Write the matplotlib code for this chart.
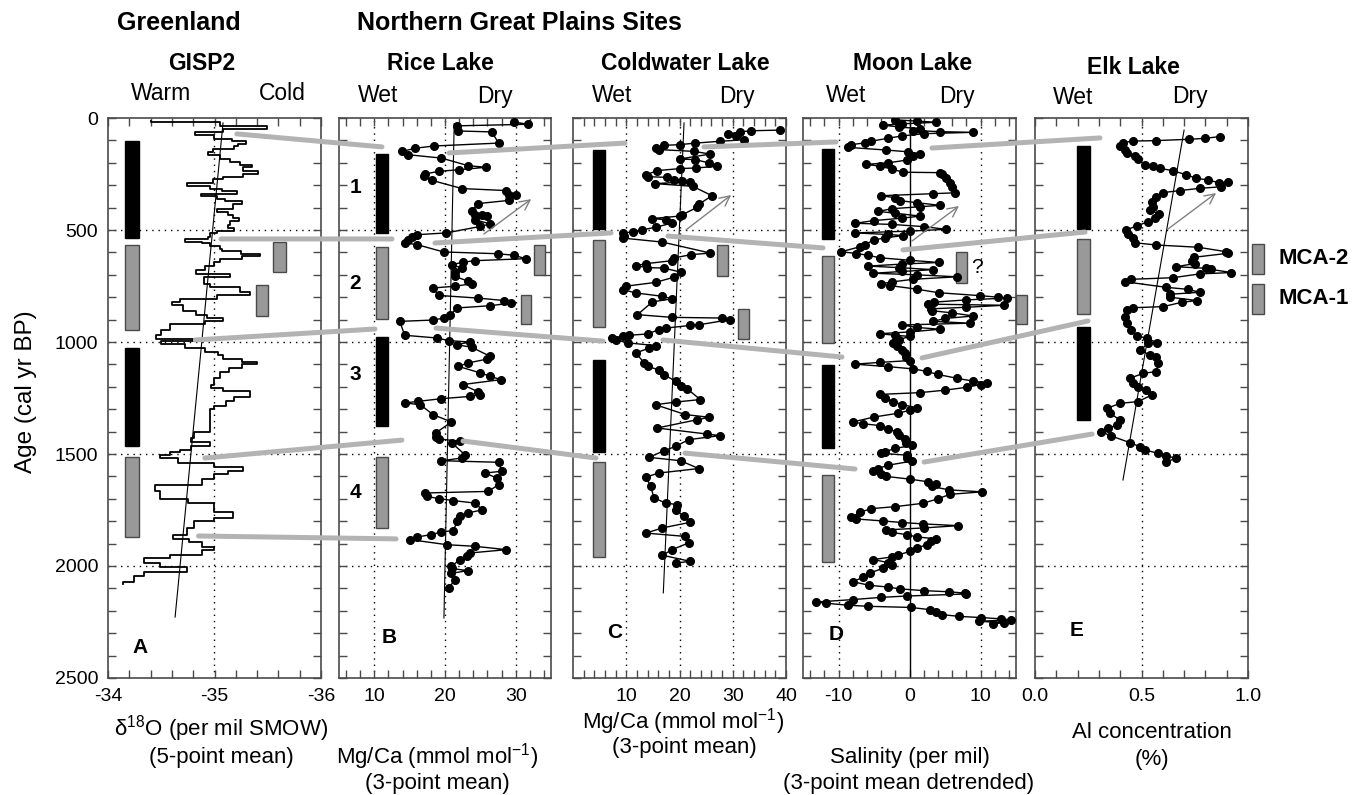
import matplotlib
matplotlib.use('Agg')
import matplotlib.pyplot as plt
import numpy as np
from matplotlib.patches import Rectangle, ConnectionPatch

plt.rcParams['font.family'] = ['Liberation Sans', 'DejaVu Sans']
plt.rcParams['mathtext.default'] = 'regular'

W, H = 1364, 795

# ---------------- data ----------------
# GISP2 d18O, 5-point mean, held as steps: (top age of step, value)
gisp2_steps = [
    (15, -34.40), (20, -35.05), (35, -35.49), (48, -35.08), (62, -34.82), (78, -35.00),
    (92, -35.16), (104, -35.30), (115, -35.22), (125, -35.18), (140, -34.99), (150, -34.94),
    (165, -35.05), (185, -35.15), (195, -35.24), (208, -35.35), (220, -35.27), (235, -35.41),
    (250, -35.27), (262, -35.08), (272, -34.99), (288, -34.74), (302, -34.96), (315, -35.07),
    (325, -35.21), (340, -34.87), (350, -35.02), (362, -35.10), (372, -35.26), (385, -35.17),
    (405, -35.02), (420, -35.13), (435, -35.17), (448, -35.23), (462, -35.15), (478, -35.13),
    (492, -35.18), (505, -35.02), (515, -34.96), (530, -34.94), (540, -34.72), (552, -34.88),
    (560, -34.96), (572, -35.05), (585, -35.07), (595, -35.25), (605, -35.43), (615, -35.26),
    (630, -35.05), (645, -35.00), (660, -34.91), (680, -34.83), (695, -35.15), (710, -34.90),
    (742, -34.96), (755, -35.24), (775, -35.33), (790, -35.02), (810, -34.68), (820, -34.60),
    (835, -34.70), (860, -34.83), (880, -34.93), (895, -35.08), (905, -34.91), (920, -34.58),
    (945, -34.50), (970, -34.45), (985, -34.80), (995, -34.50), (1010, -34.72), (1025, -34.91),
    (1045, -35.03), (1060, -35.08), (1075, -35.26), (1090, -35.40), (1100, -35.26), (1115, -35.14),
    (1135, -35.05), (1160, -35.00), (1190, -34.97), (1205, -35.08), (1220, -35.33), (1245, -35.18),
    (1265, -35.11), (1285, -35.00), (1300, -34.96), (1400, -34.81), (1430, -34.78), (1445, -34.96),
    (1465, -34.78), (1480, -34.68), (1490, -34.58), (1505, -34.49), (1520, -34.66), (1540, -35.00),
    (1560, -35.27), (1575, -35.13), (1590, -35.00), (1610, -34.88), (1640, -34.44), (1665, -34.49),
    (1700, -34.75), (1720, -35.00), (1760, -35.17), (1785, -35.00), (1800, -34.81), (1830, -34.74),
    (1860, -34.61), (1880, -34.76), (1895, -34.88), (1915, -35.00), (1930, -34.88), (1950, -34.58),
    (1965, -34.34), (1985, -34.49), (2005, -34.74), (2025, -34.34), (2045, -34.24), (2070, -34.14),
]
gisp2_end_age = 2080

# Rice Lake Mg/Ca (age, mmol/mol)
rice = [
    (18, 29.7), (28, 31.8), (35, 21.7), (58, 21.9), (62, 26.6), (112, 27.6), (125, 18.4),
    (135, 15.8), (149, 13.9), (164, 14.8), (179, 19.5), (213, 23.3), (220, 25.8), (231, 22.0),
    (238, 19.1), (250, 17.2), (260, 17.0), (278, 18.1), (315, 22.4), (324, 28.7), (342, 29.1),
    (345, 30.1), (368, 29.0), (382, 24.7), (414, 23.8), (432, 24.2), (435, 25.2), (439, 26.0),
    (454, 24.2), (473, 26.4), (484, 25.0), (513, 20.2), (521, 16.0), (533, 15.3), (543, 14.8),
    (558, 14.3), (565, 16.0), (598, 19.8), (606, 27.5), (613, 29.8), (628, 31.4), (637, 24.2),
    (644, 22.5), (655, 21.0), (670, 22.4), (688, 21.4), (707, 21.4), (729, 23.3), (740, 23.8),
    (751, 21.4), (759, 18.3), (792, 19.1), (804, 24.7), (815, 28.4), (826, 29.4), (838, 26.4),
    (848, 21.7), (881, 20.7), (893, 19.9), (902, 18.3), (908, 13.6), (970, 14.3), (982, 18.8),
    (994, 20.6), (1000, 23.5), (1012, 21.7), (1024, 23.8), (1064, 26.4), (1076, 26.0),
    (1094, 23.2), (1109, 21.9), (1138, 25.0), (1153, 26.4), (1168, 27.9), (1190, 22.5),
    (1223, 24.7), (1235, 25.0), (1243, 23.5), (1253, 19.5), (1265, 16.2), (1272, 14.3),
    (1280, 16.5), (1324, 18.3), (1357, 20.9), (1406, 18.7), (1426, 18.7), (1433, 19.2),
    (1443, 22.1), (1451, 21.0), (1503, 22.8), (1518, 22.4), (1530, 19.5), (1537, 27.6),
    (1577, 28.0), (1585, 25.7), (1607, 27.3), (1637, 27.6), (1667, 26.1), (1674, 17.2),
    (1689, 17.4), (1699, 19.1), (1708, 21.2), (1719, 24.2), (1749, 25.3), (1763, 23.3),
    (1778, 22.1), (1801, 21.7), (1842, 21.2), (1848, 19.5), (1860, 18.0), (1871, 16.0),
    (1882, 15.0), (1905, 20.3), (1912, 24.2), (1927, 28.7), (1942, 23.5), (1957, 23.1),
    (1972, 22.1), (2001, 20.9), (2011, 21.0), (2021, 23.2), (2033, 20.8), (2063, 21.4),
    (2098, 20.5),
]

# Coldwater Lake Mg/Ca (age, mmol/mol)
coldwater = [
    (54, 38.9), (57, 33.4), (62, 31.4), (71, 29.1), (82, 30.7), (97, 32.2), (104, 27.6),
    (112, 23.0), (119, 20.0), (122, 17.1), (134, 15.5), (141, 16.1), (149, 22.7), (161, 25.8),
    (183, 20.0), (186, 23.0), (201, 25.6), (216, 27.0), (223, 23.1), (226, 20.0), (235, 15.8),
    (253, 13.8), (262, 14.0), (265, 17.7), (275, 18.9), (280, 20.5), (284, 22.0), (293, 15.4),
    (305, 22.5), (347, 26.1), (384, 23.7), (399, 23.3), (432, 20.5), (438, 20.0), (449, 14.8),
    (454, 17.4), (469, 18.6), (488, 15.5), (499, 13.0), (509, 11.2), (513, 9.3), (525, 9.6),
    (536, 9.3), (554, 16.8), (603, 25.8), (610, 22.2), (625, 18.9), (637, 18.6), (650, 13.8),
    (659, 11.8), (668, 13.9), (670, 17.1), (688, 20.2), (711, 18.9), (734, 15.5), (751, 9.9),
    (766, 9.3), (781, 11.8), (796, 16.8), (807, 18.6), (821, 14.9), (878, 12.1), (890, 18.6),
    (893, 28.0), (900, 29.5), (923, 23.7), (926, 22.0), (938, 17.4), (945, 16.1), (964, 14.0),
    (970, 10.6), (975, 9.3), (982, 7.4), (990, 8.0), (1004, 10.3), (1016, 15.5), (1027, 14.3),
    (1049, 11.8), (1094, 13.4), (1109, 14.0), (1124, 16.1), (1146, 17.1), (1176, 19.3),
    (1198, 20.2), (1208, 21.4), (1257, 23.9), (1268, 19.3), (1280, 15.5), (1324, 21.1),
    (1336, 25.6), (1347, 23.3), (1384, 15.8), (1411, 25.2), (1418, 27.6), (1436, 21.7),
    (1466, 19.3), (1485, 17.1), (1515, 14.3), (1530, 20.2), (1565, 23.6), (1585, 16.1),
    (1603, 13.7), (1644, 14.6), (1696, 15.2), (1719, 17.4), (1726, 19.6), (1749, 19.3),
    (1778, 20.8), (1805, 22.0), (1830, 16.8), (1853, 13.7), (1868, 21.1), (1897, 21.7),
    (1927, 18.6), (1952, 16.8), (1979, 22.0), (1987, 19.3),
]

# Moon Lake salinity, detrended (age, per mil)
moon = [
    (8, -2.1), (14, 1.0), (19, 3.8), (26, -1.0), (32, -3.7), (40, -1.5), (48, 1.5), (56, 0.5),
    (61, 4.3), (64, 9.0), (70, 2.0), (80, -1.0), (90, -3.0), (104, -5.4), (111, -6.3),
    (119, -8.2), (131, -8.7), (143, -3.3), (151, -0.2), (159, 1.5), (170, 0.5), (188, -0.4),
    (200, -3.0), (207, -6.1), (215, -4.2), (228, -2.5), (242, -0.9), (244, 4.3), (250, 4.6),
    (270, 5.2), (290, 5.7), (310, 6.0), (334, 6.4), (338, 3.3), (347, -4.0), (356, -2.0),
    (369, -1.4), (378, 1.0), (390, 4.3), (396, 1.5), (405, -2.5), (417, -4.4), (425, -2.0),
    (438, 1.5), (447, -1.0), (458, -5.0), (470, -7.7), (475, -2.5), (485, 2.0), (497, 5.2),
    (505, 0.0), (513, -7.7), (520, -3.0), (525, -0.9), (535, -3.5), (545, -5.0), (565, -6.3),
    (575, -7.0), (597, -9.6), (605, -7.5), (613, -5.8), (624, -4.2), (635, 0.0), (645, 4.1),
    (652, -1.0), (661, -5.8), (668, -1.5), (677, 3.3), (685, -1.0), (693, -5.1), (700, 1.0),
    (709, 6.7), (720, 0.5), (732, -2.5), (740, -4.0), (748, -2.8), (764, 1.0), (780, 4.1),
    (793, 9.9), (800, 12.5), (804, 13.7), (812, 8.0), (822, 3.5), (831, 2.6), (836, 13.3),
    (845, 8.0), (852, 3.0), (860, 3.1), (870, 6.0), (884, 9.0), (895, 5.0), (908, 3.3),
    (916, 8.5), (924, -1.1), (935, 1.0), (943, 4.3), (955, 0.0), (963, -4.2), (970, -2.0),
    (975, 0.0), (990, -1.5), (1006, -2.3), (1020, -1.8), (1035, -1.0), (1051, -0.7),
    (1065, -0.5), (1083, 0.0), (1091, -4.2), (1099, -7.7), (1110, -3.0), (1120, 0.5),
    (1131, 2.4), (1145, 4.0), (1162, 6.7), (1175, 9.0), (1182, 10.9), (1190, 10.0),
    (1202, 8.1), (1215, 5.0), (1226, 1.5), (1234, -4.2), (1250, -3.5), (1266, -2.3),
    (1280, -1.0), (1293, 1.0), (1305, 0.0), (1318, -1.6), (1335, -5.0), (1357, -8.0),
    (1365, -6.5), (1373, -4.2), (1388, -3.0), (1401, -1.8), (1415, -1.5), (1433, -0.7),
    (1450, -0.5), (1462, 0.3), (1475, -2.0), (1490, -3.5), (1497, -4.0), (1505, -0.4),
    (1520, -0.3), (1532, 0.3), (1550, -3.0), (1565, -4.5), (1576, -5.1), (1590, -4.0),
    (1600, -3.3), (1612, 0.0), (1624, 2.6), (1632, 3.8), (1645, 3.2), (1660, 5.5),
    (1669, 10.2), (1680, 5.7), (1700, 4.0), (1720, 1.9), (1735, -2.0), (1744, -5.4),
    (1760, -7.0), (1783, -8.2), (1790, -7.5), (1799, -3.7), (1806, -1.0), (1812, 1.9),
    (1820, 6.9), (1830, 2.0), (1839, -3.3), (1850, -2.5), (1860, -0.4), (1870, 1.0),
    (1879, 3.8), (1890, 3.0), (1905, 2.5), (1919, 1.0), (1935, 0.0), (1951, -1.6),
    (1960, -2.5), (1971, -5.1), (1985, -3.0), (1995, -2.5), (2010, -3.7), (2030, -5.5),
    (2050, -6.5), (2070, -8.0), (2086, -5.7), (2094, -3.0), (2102, -1.4), (2110, 2.0),
    (2115, 5.5), (2121, 7.8), (2125, 8.0), (2134, -0.4), (2140, -4.0), (2150, -8.0),
    (2161, -13.2), (2166, -11.8), (2175, -8.7), (2180, -5.8), (2185, 0.2), (2195, 2.9),
    (2205, 3.8), (2217, 4.6), (2225, 7.0), (2230, 10.0), (2236, 12.9), (2240, 14.3),
    (2247, 9.8), (2253, 13.3), (2258, 11.8),
]

# Elk Lake Al concentration (age, %)
elk = [
    (83, 0.867), (91, 0.797), (95, 0.723), (101, 0.567), (103, 0.458), (110, 0.414),
    (125, 0.398), (143, 0.422), (158, 0.430), (170, 0.469), (185, 0.484), (210, 0.516),
    (214, 0.555), (225, 0.586), (235, 0.648), (254, 0.711), (269, 0.758), (277, 0.813),
    (289, 0.864), (287, 0.906), (307, 0.875), (314, 0.773), (324, 0.680), (333, 0.602),
    (351, 0.567), (374, 0.547), (396, 0.555), (411, 0.539), (430, 0.583), (448, 0.563),
    (463, 0.531), (482, 0.477), (500, 0.427), (518, 0.438), (537, 0.461), (557, 0.469),
    (567, 0.570), (577, 0.766), (597, 0.898), (604, 0.906), (622, 0.745), (637, 0.739),
    (650, 0.750), (664, 0.661), (671, 0.805), (676, 0.828), (690, 0.922), (696, 0.773),
    (713, 0.648), (720, 0.453), (731, 0.422), (756, 0.617), (765, 0.719), (778, 0.773),
    (787, 0.633), (800, 0.633), (815, 0.761), (823, 0.688), (842, 0.602), (847, 0.458),
    (857, 0.433), (887, 0.422), (917, 0.430), (946, 0.453), (972, 0.477), (984, 0.528),
    (1003, 0.573), (1006, 0.531), (1036, 0.495), (1058, 0.539), (1065, 0.570), (1095, 0.578),
    (1132, 0.570), (1140, 0.508), (1162, 0.445), (1185, 0.461), (1199, 0.484), (1214, 0.523),
    (1237, 0.547), (1266, 0.484), (1274, 0.398), (1296, 0.339), (1318, 0.352), (1348, 0.398),
    (1371, 0.383), (1385, 0.344), (1400, 0.309), (1420, 0.359), (1449, 0.445), (1467, 0.492),
    (1482, 0.516), (1497, 0.578), (1509, 0.617), (1519, 0.664), (1534, 0.617),
]

# linear trends (value at top, age at top, value at bottom, age at bottom)
trend_gisp2 = (-35.08, 22, -34.63, 2228)
trend_rice = (21.3, 25, 19.85, 2232)
trend_coldwater = (20.85, 22, 16.96, 2120)
trend_elk = (0.70, 54, 0.413, 1616)

# wet (black) / dry (gray) periods per site, alternating, ages
periods_gisp2 = [(103, 536), (567, 946), (1028, 1464), (1514, 1871)]
periods_rice = [(162, 513), (576, 898), (979, 1375), (1513, 1830)]
periods_coldwater = [(143, 495), (545, 932), (1080, 1490), (1536, 1960)]
periods_moon = [(138, 540), (616, 1003), (1103, 1473), (1594, 1982)]
periods_elk = [(125, 496), (540, 875), (933, 1348)]

# Medieval Climate Anomaly intervals (MCA-2, MCA-1) as marked per panel
mca_gisp2 = [(555, 689), (747, 882)]
mca_rice = [(568, 702), (789, 920)]
mca_coldwater = [(568, 704), (851, 985)]
mca_moon = [(600, 736), (788, 920)]
mca_legend = [(562, 696), (741, 875)]
mca_names = ['MCA-2', 'MCA-1']

# Rice Lake drought intervals 1-4 (label age)
interval_labels = ['1', '2', '3', '4']
interval_ages = [312, 737, 1147, 1670]

# correlation ties: (panel, value, age) -> (panel, value, age)
ties = [
    ('A', -35.21, 71, 'B', 11.08, 129), ('B', 20.57, 156, 'C', 9.77, 112),
    ('C', 24.6, 129, 'D', -10.35, 107), ('D', 3.17, 134, 'E', 0.305, 89),
    ('A', -35.06, 540, 'B', 12.5, 540), ('B', 18.58, 558, 'C', 7.14, 513),
    ('C', 17.84, 527, 'D', -12.18, 580), ('D', -0.92, 589, 'E', 0.235, 509),
    ('A', -34.82, 991, 'B', 10.09, 942), ('B', 18.73, 938, 'C', 5.63, 996),
    ('C', 16.9, 991, 'D', -9.51, 1067), ('D', 1.76, 1071, 'E', 0.249, 906),
    ('A', -34.91, 1518, 'B', 13.9, 1438), ('B', 22.55, 1442, 'C', 4.32, 1518),
    ('C', 21.03, 1496, 'D', -7.68, 1567), ('D', 2.04, 1536, 'E', 0.268, 1411),
    ('A', -34.85, 1866, 'B', 13.07, 1879),
]

# "drier" arrows: (panel, value0, age0, value1, age1)
arrows = [
    ('B', 25.5, 518, 32.2, 362), ('C', 21.2, 500, 29.7, 344),
    ('D', 0.35, 549, 6.97, 393), ('E', 0.624, 496, 0.85, 335),
]

# ---------------- layout / style ----------------
PANEL_PX = {'A': (108, 321), 'B': (339, 551), 'C': (573, 786), 'D': (803, 1016), 'E': (1035, 1248)}
TOP_PX, BOTTOM_PX = 118, 678
SPINE = '#4a4a4a'
TIE_GRAY = '#b3b3b3'
BAR_GRAY = '#999999'

AXIS_CFG = {
    'A': dict(xlim=(-34, -36), ticks=np.arange(-34, -36.01, -0.2), labels=[-34, -35, -36], fmt='{:.0f}', grid=[-35]),
    'B': dict(xlim=(5, 35), ticks=np.arange(6, 35, 2), labels=[10, 20, 30], fmt='{:.0f}', grid=[10, 20, 30]),
    'C': dict(xlim=(0, 40), ticks=np.arange(2, 41, 2), labels=[10, 20, 30, 40], fmt='{:.0f}', grid=[10, 20, 30]),
    'D': dict(xlim=(-15, 15), ticks=np.arange(-14, 15, 2), labels=[-10, 0, 10], fmt='{:.0f}', grid=[-10, 10]),
    'E': dict(xlim=(0, 1), ticks=np.arange(0, 1.01, 0.1), labels=[0.0, 0.5, 1.0], fmt='{:.1f}', grid=[0.5]),
}
BAR_X = {'A': (-34.16, -34.29), 'B': (10.3, 12.0), 'C': (3.8, 6.1), 'D': (-12.3, -10.6), 'E': (0.197, 0.258)}
MCA_X = {'A': [(-35.55, -35.67), (-35.39, -35.50)], 'B': [(32.6, 34.2), (30.7, 32.2)],
         'C': [(27.0, 29.2), (30.9, 33.1)], 'D': [(6.6, 8.1), (15.0, 16.6)]}
LETTER_POS = {'A': (-34.30, 2362), 'B': (12.1, 2317), 'C': (7.9, 2299), 'D': (-10.3, 2308), 'E': (0.197, 2286)}


def fig_xy(x, y):
    return x / W, 1 - y / H


def make_axes(fig, key):
    x0, x1 = PANEL_PX[key]
    ax = fig.add_axes([x0 / W, 1 - BOTTOM_PX / H, (x1 - x0) / W, (BOTTOM_PX - TOP_PX) / H])
    cfg = AXIS_CFG[key]
    ax.set_xlim(*cfg['xlim'])
    ax.set_ylim(2500, 0)
    ax.set_xticks(cfg['ticks'])
    ax.set_xticklabels([cfg['fmt'].format(t) if np.any(np.isclose(t, cfg['labels'])) else ''
                        for t in cfg['ticks']])
    yt = np.arange(0, 2501, 100)
    ax.set_yticks(yt)
    ax.set_yticklabels([str(v) if (key == 'A' and v % 500 == 0) else '' for v in yt])
    ax.tick_params(direction='in', length=6, width=1, color=SPINE, top=True, right=True,
                   labelsize=14, pad=7)
    for s in ax.spines.values():
        s.set_color(SPINE)
        s.set_linewidth(1.2)
    for g in cfg['grid']:
        ax.axvline(g, color='k', lw=1, ls=(0, (1, 3.5)), zorder=1)
    for a in (500, 1000, 1500, 2000):
        ax.axhline(a, color='k', lw=1, ls=(0, (1, 3.5)), zorder=1)
    return ax


def draw_periods(ax, key, periods):
    x0, x1 = BAR_X[key]
    for i, (a0, a1) in enumerate(periods):
        if i % 2 == 0:
            ax.add_patch(Rectangle((x0, a0), x1 - x0, a1 - a0, facecolor='black', edgecolor='black', zorder=2))
        else:
            ax.add_patch(Rectangle((x0, a0), x1 - x0, a1 - a0, facecolor=BAR_GRAY, edgecolor=SPINE,
                                   lw=1, zorder=2))


def draw_mca(ax, xs, intervals):
    for (x0, x1), (a0, a1) in zip(xs, intervals):
        ax.add_patch(Rectangle((x0, a0), x1 - x0, a1 - a0, facecolor=BAR_GRAY, edgecolor=SPINE,
                               lw=1, zorder=2, clip_on=False))


def draw_series(ax, series):
    ages, vals = zip(*series)
    ax.plot(vals, ages, color='black', lw=1, marker='o', ms=5.5, zorder=3)


def draw_trend(ax, trend):
    v0, a0, v1, a1 = trend
    ax.plot([v0, v1], [a0, a1], color='black', lw=0.8, zorder=2)


fig = plt.figure(figsize=(W / 100, H / 100), dpi=100)
axes = {k: make_axes(fig, k) for k in PANEL_PX}

# A: GISP2 step curve
g_age = [a for a, _ in gisp2_steps] + [gisp2_end_age]
g_val = [v for _, v in gisp2_steps] + [gisp2_steps[-1][1]]
axes['A'].plot(g_val, g_age, drawstyle='steps-pre', color='black', lw=1.3, zorder=3)
draw_trend(axes['A'], trend_gisp2)

draw_series(axes['B'], rice)
draw_trend(axes['B'], trend_rice)
draw_series(axes['C'], coldwater)
draw_trend(axes['C'], trend_coldwater)
draw_series(axes['D'], moon)
axes['D'].axvline(0, color='black', lw=1, zorder=2)
draw_series(axes['E'], elk)
draw_trend(axes['E'], trend_elk)

for key, periods in zip('ABCDE', [periods_gisp2, periods_rice, periods_coldwater, periods_moon, periods_elk]):
    draw_periods(axes[key], key, periods)
for key, mca in zip('ABCD', [mca_gisp2, mca_rice, mca_coldwater, mca_moon]):
    draw_mca(axes[key], MCA_X[key], mca)
draw_mca(axes['E'], [(1.019, 1.075), (1.019, 1.075)], mca_legend)
for name, (a0, a1) in zip(mca_names, mca_legend):
    axes['E'].text(1.145, (a0 + a1) / 2, name, fontsize=16, fontweight='bold', va='center',
                   ha='left', clip_on=False)
axes['D'].text(9.5, 669, '?', fontsize=15, ha='center', va='center')

for lab, age in zip(interval_labels, interval_ages):
    axes['B'].text(7.3, age, lab, fontsize=15, fontweight='bold', ha='center', va='center')

for key, (x, y) in LETTER_POS.items():
    axes[key].text(x, y, key, fontsize=15, fontweight='bold', ha='center', va='center')

for key, v0, a0, v1, a1 in arrows:
    axes[key].annotate('', xy=(v1, a1), xytext=(v0, a0),
                       arrowprops=dict(arrowstyle='->', color='#808080', lw=1.0,
                                       mutation_scale=18, shrinkA=0, shrinkB=0), zorder=4)

for ka, va, aa, kb, vb, ab in ties:
    con = ConnectionPatch(xyA=(va, aa), coordsA='data', axesA=axes[ka],
                          xyB=(vb, ab), coordsB='data', axesB=axes[kb],
                          color=TIE_GRAY, lw=3.6, capstyle='round', zorder=5)
    fig.add_artist(con)

# headers
fig.text(*fig_xy(179, 23), 'Greenland', fontsize=18, fontweight='bold', ha='center', va='center')
fig.text(*fig_xy(519, 23), 'Northern Great Plains Sites', fontsize=18, fontweight='bold', ha='center', va='center')
for x, y, t in [(202, 63, 'GISP2'), (440, 63, 'Rice Lake'), (685, 63, 'Coldwater Lake'),
                (913, 63, 'Moon Lake'), (1133, 67, 'Elk Lake')]:
    fig.text(*fig_xy(x, y), t, fontsize=16.5, fontweight='bold', ha='center', va='center')
for x, y, t in [(161, 94, 'Warm'), (282, 94, 'Cold'), (378, 96, 'Wet'), (495, 96, 'Dry'),
                (612, 96, 'Wet'), (737, 96, 'Dry'), (846, 96, 'Wet'), (957, 96, 'Dry'),
                (1073, 97, 'Wet'), (1190, 97, 'Dry')]:
    fig.text(*fig_xy(x, y), t, fontsize=16.5, ha='center', va='center')

# axis titles
for x, y, t in [(221, 729, r'$\delta^{18}$O (per mil SMOW)'), (221, 757, '(5-point mean)'),
                (437, 757, r'Mg/Ca (mmol mol$^{-1}$)'), (437, 783, '(3-point mean)'),
                (683, 722, r'Mg/Ca (mmol mol$^{-1}$)'), (684, 748, '(3-point mean)'),
                (910, 757, 'Salinity (per mil)'), (909, 783, '(3-point mean detrended)'),
                (1152, 733, 'Al concentration'), (1152, 760, '(%)')]:
    fig.text(*fig_xy(x, y), t, fontsize=16, ha='center', va='center')
fig.text(*fig_xy(26, 392), 'Age (cal yr BP)', fontsize=17.5, rotation=90, ha='center', va='center')

fig.savefig('out.png', dpi=100)
